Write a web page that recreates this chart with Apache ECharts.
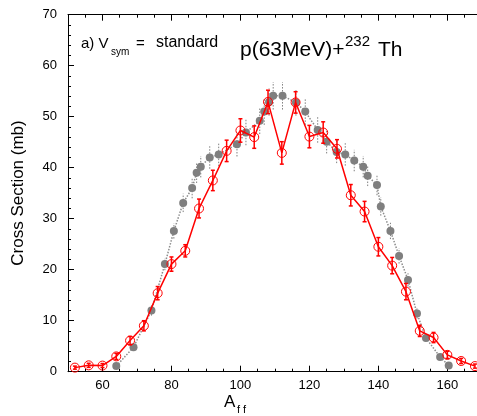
<!DOCTYPE html>
<html>
<head>
<meta charset="utf-8">
<script src="https://cdn.jsdelivr.net/npm/echarts@6/dist/echarts.min.js"></script>
<style>
html,body{margin:0;padding:0;background:#fff;}
#chart{width:477px;height:416px;}
</style>
</head>
<body>
<div id="chart"></div>
<script>
// Red: open circles, solid line (with error bars)
var redA = [52,56,60,64,68,72,76,80,84,88,92,96,100,104,108,112,116,120,124,128,132,136,140,144,148,152,156,160,164,168];
var redY = [0.8,1.25,1.2,3.0,6.1,9.0,15.4,21.1,23.7,32.0,37.5,43.3,47.3,46.0,52.9,42.9,52.8,46.1,46.9,43.7,34.6,31.4,24.5,20.8,15.7,8.0,6.7,3.3,2.1,1.1];
var redErr = [0.3,0.4,0.4,0.6,0.8,1.0,1.3,1.4,1.2,1.85,2.0,2.1,2.3,2.2,2.3,2.2,2.1,2.2,2.1,1.8,2.1,2.0,1.8,1.6,1.6,1.1,1.0,0.7,0.5,0.4];

// Gray: filled circles, dotted line (with dotted error bars)
var grayA = [64,69,74.2,78.1,80.7,83.4,86,87.3,88.5,91.1,93.7,99,101.6,105.6,106.9,108.3,109.5,112.2,116.1,118.8,122.4,125,127.9,130.4,133,135.6,136.9,139.6,140.7,143.5,146,148.6,151.2,153.8,157.9,160.4];
var grayY = [1.1,4.8,12.0,21.1,27.6,33.1,36.0,39.0,40.2,42.0,42.6,44.6,46.9,49.2,51.0,52.9,54.1,54.1,52.8,51.0,47.4,45.1,43.1,42.6,41.4,40.2,38.4,36.6,32.4,27.6,22.7,18.0,11.4,6.6,2.9,1.2];
var grayErr = [0.3,0.6,1.0,1.2,1.5,1.8,2.0,2.0,2.1,2.2,2.3,2.4,2.5,2.6,2.6,2.7,2.7,2.7,2.6,2.6,2.5,2.3,2.2,2.2,2.1,2.1,2.0,2.0,1.8,1.6,1.5,1.3,1.0,0.7,0.4,0.3];

var xMajor = [60,80,100,120,140,160];
var xMinor = [55,65,70,75,85,90,95,105,110,115,125,130,135,145,150,155,165];

var FONT = 'Liberation Sans, Arial, sans-serif';

function pairs(a, b) { return a.map(function (v, i) { return [v, b[i]]; }); }
function errData(a, b, e) { return a.map(function (v, i) { return [v, b[i] - e[i], b[i] + e[i]]; }); }

function errRender(color, dashed, cap) {
  return function (params, api) {
    var x = api.value(0);
    var lo = api.coord([x, api.value(1)]);
    var hi = api.coord([x, api.value(2)]);
    var st = {stroke: color, lineWidth: dashed ? 1 : 1.5, lineDash: dashed ? [1.5, 1.5] : null};
    var ch = [{type: 'line', shape: {x1: lo[0], y1: lo[1], x2: hi[0], y2: hi[1]}, style: st}];
    if (cap) {
      ch.push({type: 'line', shape: {x1: lo[0] - cap, y1: lo[1], x2: lo[0] + cap, y2: lo[1]}, style: st});
      ch.push({type: 'line', shape: {x1: hi[0] - cap, y1: hi[1], x2: hi[0] + cap, y2: hi[1]}, style: st});
    }
    return {type: 'group', children: ch};
  };
}

var X0 = 50, X1 = 168.6;
function xAx(pos, ticks, len, labels, line) {
  return {
    type: 'value', min: X0, max: X1, position: pos,
    axisLine: {show: line, onZero: false, lineStyle: {color: '#000', width: 1}},
    axisTick: {show: true, inside: true, length: len, customValues: ticks, lineStyle: {color: '#000', width: 1}},
    axisLabel: labels ? {show: true, customValues: ticks, color: '#000', fontSize: 13, fontFamily: FONT, margin: 7} : {show: false},
    splitLine: {show: false}
  };
}

var chart = echarts.init(document.getElementById('chart'), null, {renderer: 'canvas'});
chart.setOption({
  animation: false,
  backgroundColor: '#fff',
  grid: {left: 68, right: 0, top: 14.7, bottom: 44.3, containLabel: false},
  xAxis: [
    xAx('bottom', xMajor, 6, true, true),
    xAx('bottom', xMinor, 3, false, false),
    xAx('top', xMajor, 6, false, true),
    xAx('top', xMinor, 3, false, false)
  ],
  yAxis: [{
    type: 'value', min: 0, max: 70, interval: 10,
    axisLine: {show: true, lineStyle: {color: '#000', width: 1}},
    axisTick: {show: true, inside: true, length: 6, lineStyle: {color: '#000'}},
    minorTick: {show: true, splitNumber: 5, length: 3, lineStyle: {color: '#000'}},
    axisLabel: {color: '#000', fontSize: 13, fontFamily: FONT, margin: 11},
    splitLine: {show: false}
  }],
  series: [
    {
      type: 'custom', xAxisIndex: 0, yAxisIndex: 0, z: 1,
      renderItem: errRender('#7f7f7f', true, 0),
      data: errData(grayA, grayY, grayErr), clip: false
    },
    {
      type: 'line', xAxisIndex: 0, z: 2,
      data: pairs(grayA, grayY),
      symbol: 'circle', symbolSize: 8,
      itemStyle: {color: '#7f7f7f'},
      lineStyle: {color: '#8c8c8c', width: 1.5, type: [1.5, 1.5]}
    },
    {
      type: 'custom', xAxisIndex: 0, yAxisIndex: 0, z: 3,
      renderItem: errRender('#ff0000', false, 2),
      data: errData(redA, redY, redErr), clip: false
    },
    {
      type: 'line', xAxisIndex: 0, z: 4,
      data: pairs(redA, redY),
      symbol: 'circle', symbolSize: 9,
      itemStyle: {color: 'rgba(0,0,0,0)', borderColor: '#ff0000', borderWidth: 1},
      lineStyle: {color: '#ff0000', width: 1.5},
      clip: false
    }
  ],
  graphic: [
    {type: 'text', x: 81, y: 51, style: {text: 'a) V', fontSize: 15, fontFamily: FONT, fill: '#000', verticalAlign: 'bottom'}},
    {type: 'text', x: 111, y: 57, style: {text: 'sym', fontSize: 10, fontFamily: FONT, fill: '#000', verticalAlign: 'bottom'}},
    {type: 'text', x: 136, y: 51, style: {text: '=', fontSize: 15, fontFamily: FONT, fill: '#000', verticalAlign: 'bottom'}},
    {type: 'text', x: 156, y: 51, style: {text: 'standard', fontSize: 16, fontFamily: FONT, fill: '#000', verticalAlign: 'bottom'}},
    {type: 'text', x: 240, y: 61, style: {text: 'p(63MeV)+', fontSize: 21, fontFamily: FONT, fill: '#000', verticalAlign: 'bottom'}},
    {type: 'text', x: 345, y: 49, style: {text: '232', fontSize: 15, fontFamily: FONT, fill: '#000', verticalAlign: 'bottom'}},
    {type: 'text', x: 378, y: 61, style: {text: 'Th', fontSize: 21, fontFamily: FONT, fill: '#000', verticalAlign: 'bottom'}},
    {type: 'text', x: 18, y: 193, rotation: Math.PI / 2, style: {text: 'Cross Section (mb)', fontSize: 17, fontFamily: FONT, fill: '#000', align: 'center', verticalAlign: 'middle'}},
    {type: 'text', x: 224, y: 411, style: {text: 'A', fontSize: 17, fontFamily: FONT, fill: '#000', verticalAlign: 'bottom'}},
    {type: 'text', x: 237, y: 415, style: {text: 'f f', fontSize: 11, fontFamily: FONT, fill: '#000', verticalAlign: 'bottom'}}
  ]
});
</script>
</body>
</html>
